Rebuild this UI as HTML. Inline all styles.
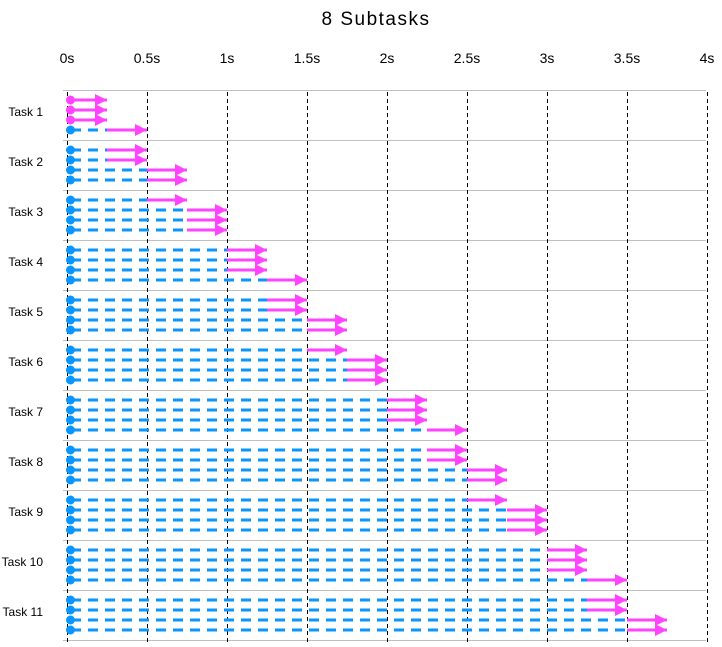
<!DOCTYPE html>
<html><head><meta charset="utf-8"><style>
body{margin:0;background:#fff;font-family:"Liberation Sans",sans-serif}
svg text{font-family:"Liberation Sans",sans-serif}
</style></head><body>
<svg id="c" width="722" height="642">
<defs><marker id="ah" viewBox="0 0 12 12" refX="12" refY="6" markerWidth="12" markerHeight="12" markerUnits="userSpaceOnUse" orient="auto"><path d="M0,0L12,6L0,12z" fill="#ff44ff"/></marker></defs>
<text x="376" y="25" font-size="19" letter-spacing="1.5" text-anchor="middle">8 Subtasks</text>
</svg>
<script>
const tickLabels=["0s","0.5s","1s","1.5s","2s","2.5s","3s","3.5s","4s"];
const tickValues=[0,0.5,1,1.5,2,2.5,3,3.5,4];
const taskNames=["Task 1","Task 2","Task 3","Task 4","Task 5","Task 6","Task 7","Task 8","Task 9","Task 10","Task 11"];
const subtaskStarts=[[0,0,0,0.25],[0.25,0.25,0.5,0.5],[0.5,0.75,0.75,0.75],[1,1,1,1.25],[1.25,1.25,1.5,1.5],[1.5,1.75,1.75,1.75],[2,2,2,2.25],[2.25,2.25,2.5,2.5],[2.5,2.75,2.75,2.75],[3,3,3,3.25],[3.25,3.25,3.5,3.5]];
const subtaskEnds=[[0.25,0.25,0.25,0.5],[0.5,0.5,0.75,0.75],[0.75,1,1,1],[1.25,1.25,1.25,1.5],[1.5,1.5,1.75,1.75],[1.75,2,2,2],[2.25,2.25,2.25,2.5],[2.5,2.5,2.75,2.75],[2.75,3,3,3],[3.25,3.25,3.25,3.5],[3.5,3.5,3.75,3.75]];
const svg=document.getElementById('c');const NS='http://www.w3.org/2000/svg';
const X=v=>67+v*160;
const taskY=i=>90+50*i;
function mk(t,a,p){const e=document.createElementNS(NS,t);for(const k in a)e.setAttribute(k,a[k]);(p||svg).appendChild(e);return e;}
taskNames.forEach((n,i)=>{
 const l=mk('line',{x1:63,x2:706,y1:taskY(i)+0.5,y2:taskY(i)+0.5,stroke:'#c0c0c0','stroke-width':1});
 
 
 const t=mk('text',{x:43,y:taskY(i)+26,'font-size':12,'text-anchor':'end'});t.textContent=n;
 
 
});
mk('line',{x1:63,x2:706,y1:640.5,y2:640.5,stroke:'#c0c0c0'});
tickValues.forEach((v,i)=>{
 const l=mk('line',{x1:X(v)+0.5,x2:X(v)+0.5,y1:92,y2:642,stroke:'#000','stroke-dasharray':'4,3','stroke-width':1});
 
 
 const t=mk('text',{x:X(v),y:63,'font-size':14,'text-anchor':'middle'});t.textContent=tickLabels[i];
 
 
});
subtaskStarts.forEach((row,i)=>row.forEach((s,j)=>{
 const y=taskY(i)+10+10*j;const e=subtaskEnds[i][j];
 const g=mk('g',{});
 
 
 if(s>0) mk('line',{x1:X(0)+4,x2:X(s),y1:y,y2:y,stroke:'#0a95ff','stroke-width':3,'stroke-dasharray':'10,7'},g);
 mk('line',{x1:X(s)+(s>0?0:3),x2:X(e),y1:y,y2:y,stroke:'#ff44ff','stroke-width':3,'marker-end':'url(#ah)'},g);
 mk('circle',{cx:X(0)+3.5,cy:y,r:4.5,fill:s>0?'#0a95ff':'#ff44ff'},g);
}));
</script>
</body></html>
